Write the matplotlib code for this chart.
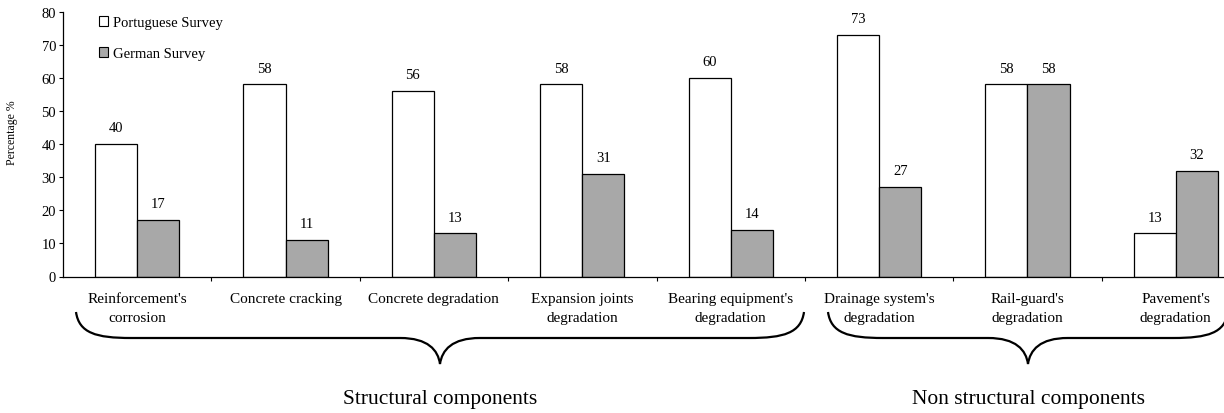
import matplotlib
matplotlib.use("Agg")
import matplotlib.pyplot as plt
import numpy as np
from matplotlib.path import Path
from matplotlib.patches import PathPatch, Patch

categories = ["Reinforcement's\ncorrosion", "Concrete cracking", "Concrete degradation",
              "Expansion joints\ndegradation", "Bearing equipment's\ndegradation",
              "Drainage system's\ndegradation", "Rail-guard's\ndegradation",
              "Pavement's\ndegradation"]
portuguese = [40, 58, 56, 58, 60, 73, 58, 13]
german = [17, 11, 13, 31, 14, 27, 58, 32]
groups = ["Structural components", "Non structural components"]

plt.rcParams['font.family'] = ['Liberation Serif', 'DejaVu Serif']
plt.rcParams['font.size'] = 10.5

W, H = 1224, 414
fig = plt.figure(figsize=(W / 100, H / 100), dpi=100)
# axes runs a bit past the right edge of the picture (the original was cropped)
ax = fig.add_axes([63 / W, 136.5 / H, (1250 - 63) / W, 265 / H])

x = np.arange(len(categories))
bw = 0.284
ax.bar(x - bw / 2, portuguese, bw, color='white', edgecolor='black', linewidth=0.9)
ax.bar(x + bw / 2, german, bw, color='#a8a8a8', edgecolor='black', linewidth=0.9)

for xi, v in zip(x, portuguese):
    ax.annotate(str(v), (xi - bw / 2, v), xytext=(0, 7), textcoords='offset points',
                ha='center', va='bottom', fontsize=10.5)
for xi, v in zip(x, german):
    ax.annotate(str(v), (xi + bw / 2, v), xytext=(0, 7), textcoords='offset points',
                ha='center', va='bottom', fontsize=10.5)

ax.set_xlim(-0.5, len(categories) - 0.5)
ax.set_ylim(0, 80)
ax.set_yticks(range(0, 81, 10))
ax.set_xticks(np.arange(0.5, len(categories) - 0.5, 1))
ax.set_xticklabels([])
ax.tick_params(axis='both', direction='out', length=3, width=0.8, color='black')
ax.tick_params(axis='y', pad=2)
for s in ['top', 'right']:
    ax.spines[s].set_visible(False)
for s in ['left', 'bottom']:
    ax.spines[s].set_linewidth(0.9)

for xi, lab in zip(x, categories):
    ax.text(xi, -0.06, lab, transform=ax.get_xaxis_transform(), ha='center', va='top',
            fontsize=11, linespacing=1.6)

fig.text(12 / W, 1 - 133 / H, "Percentage %", rotation=90, ha='center', va='center', fontsize=8.5)

handles = [Patch(facecolor='white', edgecolor='black', linewidth=0.8),
           Patch(facecolor='#a8a8a8', edgecolor='black', linewidth=0.8)]
ax.legend(handles, ["Portuguese Survey", "German Survey"], loc='upper left',
          bbox_to_anchor=(30 / 1187, 1.005), frameon=False, fontsize=10.5,
          handlelength=0.65, handleheight=0.65, handletextpad=0.3, labelspacing=1.25,
          borderaxespad=0)


def brace(x0, x1, xc, y_end, y_line, y_tip):
    def P(px, py):
        return (px / W, 1 - py / H)
    r = 55
    c = 40
    verts = [P(x0, y_end),
             P(x0 + 3, y_line - 5), P(x0 + 20, y_line), P(x0 + r, y_line),
             P(xc - c, y_line),
             P(xc - 12, y_line), P(xc - 2, y_tip - 14), P(xc, y_tip),
             P(xc + 2, y_tip - 14), P(xc + 12, y_line), P(xc + c, y_line),
             P(x1 - r, y_line),
             P(x1 - 20, y_line), P(x1 - 3, y_line - 5), P(x1, y_end)]
    codes = [Path.MOVETO,
             Path.CURVE4, Path.CURVE4, Path.CURVE4,
             Path.LINETO,
             Path.CURVE4, Path.CURVE4, Path.CURVE4,
             Path.CURVE4, Path.CURVE4, Path.CURVE4,
             Path.LINETO,
             Path.CURVE4, Path.CURVE4, Path.CURVE4]
    fig.add_artist(PathPatch(Path(verts, codes), transform=fig.transFigure,
                             facecolor='none', edgecolor='black', linewidth=1.6))


brace(76, 804, 440, 313, 339, 365)
brace(828, 1228, 1028, 313, 339, 365)

fig.text(440 / W, 1 - 400 / H, groups[0], ha='center', va='center', fontsize=15.5)
fig.text(1028 / W, 1 - 400 / H, groups[1], ha='center', va='center', fontsize=15.5)

fig.savefig("out.png", dpi=100)
